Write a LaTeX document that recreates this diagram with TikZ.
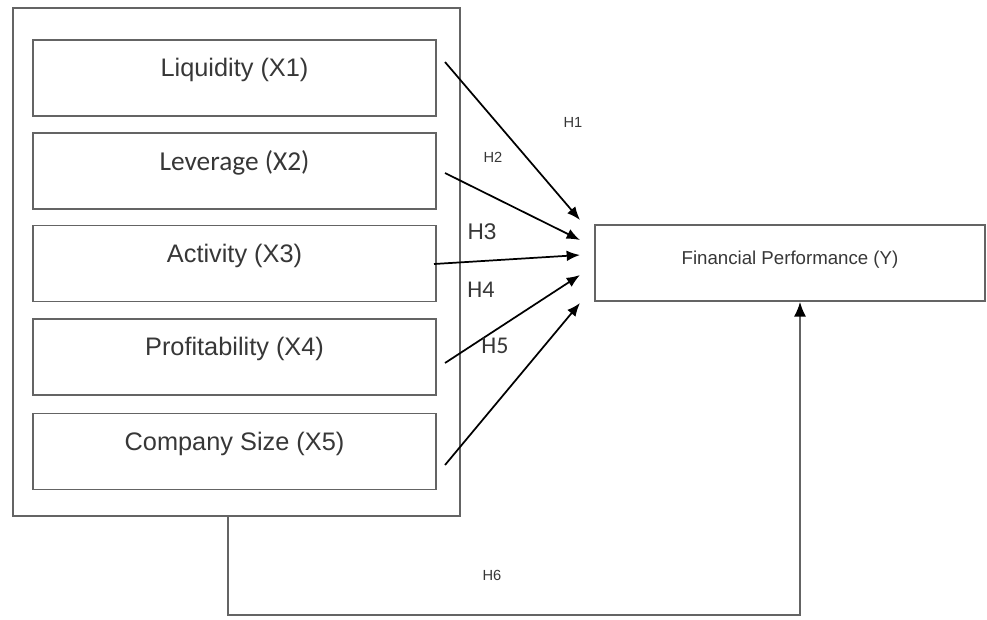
\documentclass[tikz,border=0pt]{standalone}
\usepackage{fontspec}
\setmainfont{Liberation Sans}
\newfontfamily\calibrifont{Carlito}
\usepackage{tikz}
\usetikzlibrary{arrows.meta,shapes,positioning}

\definecolor{boxgray}{RGB}{100,100,100}
\definecolor{txtgray}{RGB}{55,55,55}

\begin{document}
\begin{tikzpicture}[x=0.75pt,y=-0.75pt,>={Latex[length=10pt,width=8pt]},
		var node/.style={draw=boxgray,line width=1.3pt,minimum width=302pt,minimum height=57pt,text depth=16pt,font=\fontsize{19}{22}\selectfont,text=txtgray},
		group node/.style={draw=boxgray,line width=1.3pt,minimum width=335pt,minimum height=381pt},
		hyp/.style={text=txtgray,font=\fontsize{11}{13}\selectfont},
		hyp big/.style={text=txtgray,font=\fontsize{17}{20}\selectfont},
		link/.style={->,line width=1.3pt,black}]
		
		\useasboundingbox (0,0) rectangle (987,619);
		
		\node[group node](group) at (236.5,262){};
		\node[var node](x1) at (234.5,78){Liquidity (X1)};
		\node[var node,font=\calibrifont\fontsize{20.5}{24}\selectfont](x2) at (234.5,171){Leverage (X2)};
		\node[var node](x3) at (234.5,263.5){Activity (X3)};
		\node[var node](x4) at (234.5,357){Profitability (X4)};
		\node[var node](x5) at (234.5,451.5){Company Size (X5)};
		
		\node[var node,minimum width=292pt,text depth=8pt,font=\fontsize{14}{16}\selectfont](perf) at (790,263){Financial Performance (Y)};
		
		% free ends of the hypothesis arrows
		\coordinate (s1) at (445,62);
		\coordinate (s2) at (445,173);
		\coordinate (s3) at (434,264);
		\coordinate (s4) at (445,363);
		\coordinate (s5) at (445,465);
		\coordinate (t1) at (580,220);
		\coordinate (t2) at (580,240);
		\coordinate (t3) at (580,255);
		\coordinate (t4) at (580,275);
		\coordinate (t5) at (580,303);
		\coordinate (c6) at (228,615);
		\coordinate (c7) at (800,615);
		
		\path[link]
		(s1) edge (t1)
		(s2) edge (t2)
		(s3) edge (t3)
		(s4) edge (t4)
		(s5) edge (t5);
		
		\draw[line width=1.3pt,draw=boxgray,-{Latex[length=11pt,width=9pt,black]}] (group.south -| c6) -- (c6) -- (c7) -- (perf.south -| c7);
		
		\node[hyp](h1) at (573,122){H1};
		\node[hyp](h2) at (493,157){H2};
		\node[hyp big](h3) at (482,232){H3};
		\node[hyp big,font=\calibrifont\fontsize{18}{21}\selectfont](h4) at (481,290){H4};
		\node[hyp big,font=\calibrifont\fontsize{18}{21}\selectfont](h5) at (495,346){H5};
		\node[hyp](h6) at (492,575){H6};
		
	\end{tikzpicture}
\end{document}
